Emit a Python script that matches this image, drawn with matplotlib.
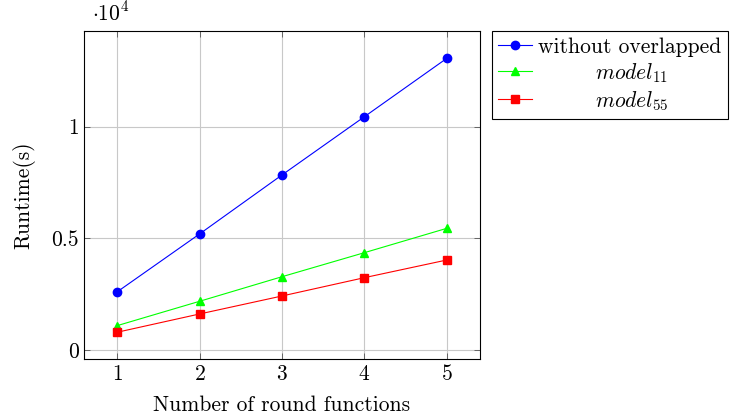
import matplotlib.pyplot as plt
from matplotlib.ticker import FuncFormatter

plt.rcParams['font.family'] = 'cmr10'
plt.rcParams['mathtext.fontset'] = 'cm'
plt.rcParams['axes.formatter.use_mathtext'] = True

rounds = [1, 2, 3, 4, 5]
without_overlapped = [2608, 5200, 7840, 10447, 13060]
model_11 = [1100, 2190, 3290, 4366, 5456]
model_55 = [805, 1623, 2428, 3248, 4039]

fs = 15.5

fig = plt.figure(figsize=(7.32, 4.16), dpi=100)
ax = fig.add_axes([0.1148, 0.1363, 0.5409, 0.7899])

ax.plot(rounds, without_overlapped, color="blue", marker="o", markersize=6,
        linewidth=0.8, label="without overlapped")
ax.plot(rounds, model_11, color="#00ff00", marker="^", markersize=5.5,
        linewidth=0.8, label="        $model_{11}$")
ax.plot(rounds, model_55, color="red", marker="s", markersize=5.5,
        linewidth=0.8, label="        $model_{55}$")

ax.set_xlim(0.6, 5.4)
ax.set_ylim(-403, 14290)
ax.set_xticks(rounds)
ax.set_yticks([0, 5000, 10000])
ax.yaxis.set_major_formatter(FuncFormatter(lambda v, p: "%g" % (v / 1e4)))
ax.grid(True, color="#c8c8c8", linewidth=0.8)
ax.tick_params(direction="in", top=True, right=True, labelsize=fs, length=4,
               width=0.6, color="#555555")
for s in ax.spines.values():
    s.set_linewidth(0.8)

ax.set_xlabel("Number of round functions", fontsize=fs, labelpad=8)
ax.set_ylabel("Runtime(s)", fontsize=fs, labelpad=12)
ax.text(0.02, 1.02, r"$\cdot 10^4$", transform=ax.transAxes, fontsize=fs,
        ha="left", va="bottom")

leg = ax.legend(loc="upper left", bbox_to_anchor=(1.03, 1.0), borderaxespad=0,
                fontsize=fs, fancybox=False, edgecolor="black", framealpha=1,
                handlelength=1.55, handletextpad=0.3, borderpad=0.3,
                labelspacing=0.2)
leg.get_frame().set_linewidth(0.8)

fig.savefig("out.png", dpi=100)
